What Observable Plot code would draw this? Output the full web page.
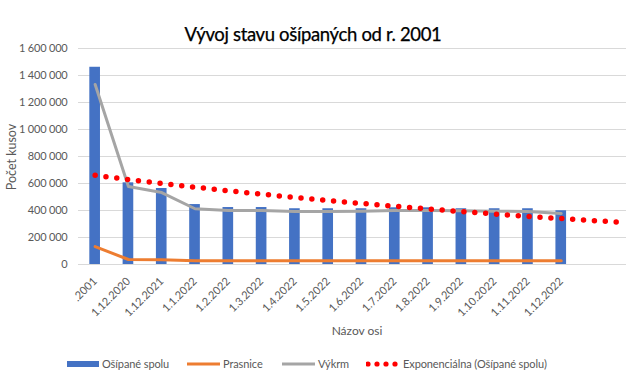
<!DOCTYPE html>
<html><head><meta charset="utf-8">
<script src="https://cdn.jsdelivr.net/npm/d3@7"></script>
<script src="https://cdn.jsdelivr.net/npm/@observablehq/plot@0.6"></script>
<style>
body{margin:0;background:#fff;}
#wrap{position:relative;width:626px;height:390px;font-family:Lato,"Open Sans",sans-serif;color:#595959;overflow:hidden;background:#fff}
#title{position:absolute;left:0;top:23px;width:626px;text-align:center;font-size:18.5px;color:#000;letter-spacing:-0.35px;-webkit-text-stroke:0.25px #000}
#chart{position:absolute;left:0;top:0}
#ylab{position:absolute;left:11px;top:157px;font-size:12.5px;transform:translate(-50%,-50%) rotate(-90deg);white-space:nowrap}
#xlab{position:absolute;left:357px;top:330px;font-size:12px;transform:translate(-50%,-50%);white-space:nowrap}
.lt{position:absolute;top:357px;font-size:11px;line-height:14px;white-space:nowrap;letter-spacing:-0.1px}
.sw{position:absolute}
.yt{letter-spacing:-0.2px}
</style></head><body>
<div id="wrap">
<div id="chart"></div>
<div id="title">Vývoj stavu ošípaných od r. 2001</div>
<div id="ylab">Počet kusov</div>
<div id="xlab">Názov osi</div>
<div id="legend"></div>
</div>
<script>
const categories = [".2001","1.12.2020","1.12.2021","1.1.2022","1.2.2022","1.3.2022","1.4.2022","1.5.2022","1.6.2022","1.7.2022","1.8.2022","1.9.2022","1.10.2022","1.11.2022","1.12.2022"];
const osipaneSpolu = [1461000,605000,563000,444000,422000,422000,413000,413000,413000,420000,420000,413000,413000,413000,398000];
const prasnice = [133000,37000,35000,28000,28000,28000,28000,28000,28000,28000,28000,28000,28000,28000,28000];
const vykrm = [1333000,578000,533000,413000,400000,400000,393000,393000,395000,400000,400000,398000,395000,393000,378000];
const yTicks = [0,200000,400000,600000,800000,1000000,1200000,1400000,1600000];
const seriesNames = ["Ošípané spolu","Prasnice","Výkrm","Exponenciálna (Ošípané spolu)"];
const colors = ["#4472C4","#ED7D31","#A5A5A5","#FF0000"];

const data = categories.map((c,i)=>({i, cat:c, spolu:osipaneSpolu[i], prasnice:prasnice[i], vykrm:vykrm[i]}));

// Exponential trendline (least squares on ln y, x = 1..n), forecast forward
const xm = d3.mean(osipaneSpolu, (v,k)=>k+1);
const lm = d3.mean(osipaneSpolu, v=>Math.log(v));
const sxy = d3.sum(osipaneSpolu, (v,k)=>(k+1-xm)*(Math.log(v)-lm));
const sxx = d3.sum(osipaneSpolu, (v,k)=>(k+1-xm)**2);
const b = sxy/sxx, lnA = lm - b*xm;
const trend = d3.range(0, 15.7, 0.05).concat([15.7]).map(t=>({t, v:Math.exp(lnA + b*(t+1))}));

const fmt = d => d3.format(",")(d).replace(/,/g," ");

const plot = Plot.plot({
  width: 626, height: 390,
  marginTop: 48, marginBottom: 126, marginLeft: 78, marginRight: 0,
  style: {fontFamily: "Lato, 'Open Sans', sans-serif", fontSize: "11px", color: "#595959", background: "transparent"},
  x: {type: "linear", domain: [-0.5, 15.96], axis: null},
  y: {domain: [0, 1600000], axis: null},
  marks: [
    Plot.ruleY(yTicks, {stroke: "#D9D9D9", strokeWidth: 1}),
    Plot.rectY(data, {x1: d=>d.i-0.16, x2: d=>d.i+0.16, y: "spolu", fill: colors[0]}),
    Plot.line(data, {x: "i", y: "prasnice", stroke: colors[1], strokeWidth: 3, strokeLinejoin: "round"}),
    Plot.line(data, {x: "i", y: "vykrm", stroke: colors[2], strokeWidth: 3, strokeLinejoin: "round"}),
    Plot.line(trend, {x: "t", y: "v", stroke: colors[3], strokeWidth: 5.5, strokeDasharray: "0 10.9", strokeLinecap: "round"}),
    Plot.text(yTicks, {x: -0.5, y: d=>d, text: fmt, textAnchor: "end", dx: -11, fill: "#595959", fontSize: 11, className: "yt"}),
    Plot.text(data, {x: "i", y: 0, text: "cat", rotate: -45, textAnchor: "end", dx: 0, dy: 15, fill: "#595959", fontSize: 11})
  ]
});
document.getElementById("chart").appendChild(plot);

// legend
const leg = document.getElementById("legend");
const items = [
  {x: 67, tx: 102, kind: "rect"},
  {x: 187, tx: 223, kind: "line"},
  {x: 282, tx: 318, kind: "line"},
  {x: 366, tx: 403, kind: "dots"}
];
items.forEach((it, k) => {
  const svg = d3.create("svg").attr("class","sw").attr("width", 36).attr("height", 12)
    .style("left", it.x+"px").style("top", "358px");
  if (it.kind === "rect") svg.append("rect").attr("x",0).attr("y",3).attr("width",32).attr("height",6).attr("fill",colors[k]);
  else if (it.kind === "line") svg.append("line").attr("x1",0).attr("x2",33).attr("y1",6).attr("y2",6).attr("stroke",colors[k]).attr("stroke-width",3);
  else [2,11,20,29].forEach(cx => svg.append("circle").attr("cx",cx).attr("cy",6).attr("r",2.6).attr("fill",colors[k]));
  leg.appendChild(svg.node());
  const t = document.createElement("div");
  t.className = "lt"; t.style.left = it.tx+"px"; t.textContent = seriesNames[k];
  leg.appendChild(t);
});
</script>
</body></html>
